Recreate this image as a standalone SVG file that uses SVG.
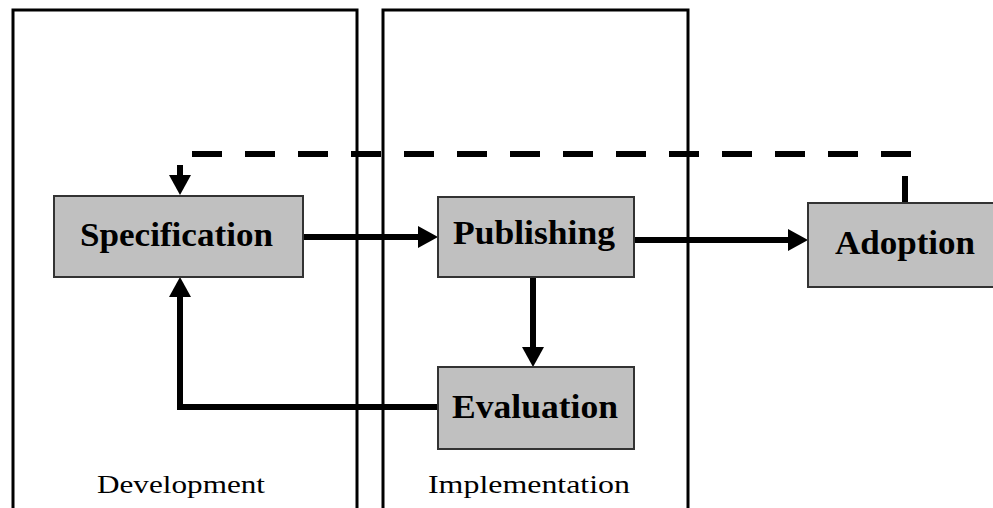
<svg xmlns="http://www.w3.org/2000/svg" width="993" height="508" viewBox="0 0 993 508">
<style>
.frame{fill:none;stroke:#000;stroke-width:3}
.box{fill:#c0c0c0;stroke:#333;stroke-width:2}
.lbl{font-family:"Liberation Serif","Times New Roman",serif;font-weight:bold;font-size:33px;text-anchor:middle;fill:#000}
.cap{font-family:"Liberation Serif","Times New Roman",serif;font-size:26px;text-anchor:middle;fill:#000}
.con{fill:none;stroke:#000;stroke-width:6;stroke-linejoin:miter}
</style>
<defs>
<marker id="ah" viewBox="0 0 20 22" markerWidth="20" markerHeight="22" refX="10" refY="11" markerUnits="userSpaceOnUse" orient="auto">
<path d="M0,0 L20,11 L0,22 Z" fill="#000"/>
</marker>
</defs>
<rect width="993" height="508" fill="#fff"/>
<g id="development">
<rect class="frame" x="13" y="10" width="344" height="520"/>
<text class="cap" x="181" y="493" textLength="168" lengthAdjust="spacingAndGlyphs">Development</text>
</g>
<g id="implementation">
<rect class="frame" x="383" y="10" width="305" height="520"/>
<text class="cap" x="529" y="493" textLength="202" lengthAdjust="spacingAndGlyphs">Implementation</text>
</g>
<g id="connectors">
<path class="con" d="M303,237 L428,237" marker-end="url(#ah)"/>
<path class="con" d="M634,240 L798,240" marker-end="url(#ah)"/>
<path class="con" d="M533,277 L533,357" marker-end="url(#ah)"/>
<path class="con" d="M438,407 L180,407 L180,287" marker-end="url(#ah)"/>
<path class="con" d="M905,203 L905,176"/>
<path class="con" d="M192,154 L911,154" stroke-width="5" stroke-dasharray="30 23"/>
<path class="con" d="M180,165 L180,185" stroke-width="5" marker-end="url(#ah)"/>
</g>
<g id="specification">
<rect class="box" x="54" y="196" width="249" height="81"/>
<text class="lbl" x="176.5" y="246" textLength="193" lengthAdjust="spacingAndGlyphs">Specification</text>
</g>
<g id="publishing">
<rect class="box" x="438" y="197" width="196" height="80"/>
<text class="lbl" x="534" y="244" textLength="162" lengthAdjust="spacingAndGlyphs">Publishing</text>
</g>
<g id="evaluation">
<rect class="box" x="438" y="367" width="196" height="82"/>
<text class="lbl" x="535" y="418" textLength="166" lengthAdjust="spacingAndGlyphs">Evaluation</text>
</g>
<g id="adoption">
<rect class="box" x="808" y="203" width="200" height="84"/>
<text class="lbl" x="905" y="254" textLength="140" lengthAdjust="spacingAndGlyphs">Adoption</text>
</g>
</svg>
